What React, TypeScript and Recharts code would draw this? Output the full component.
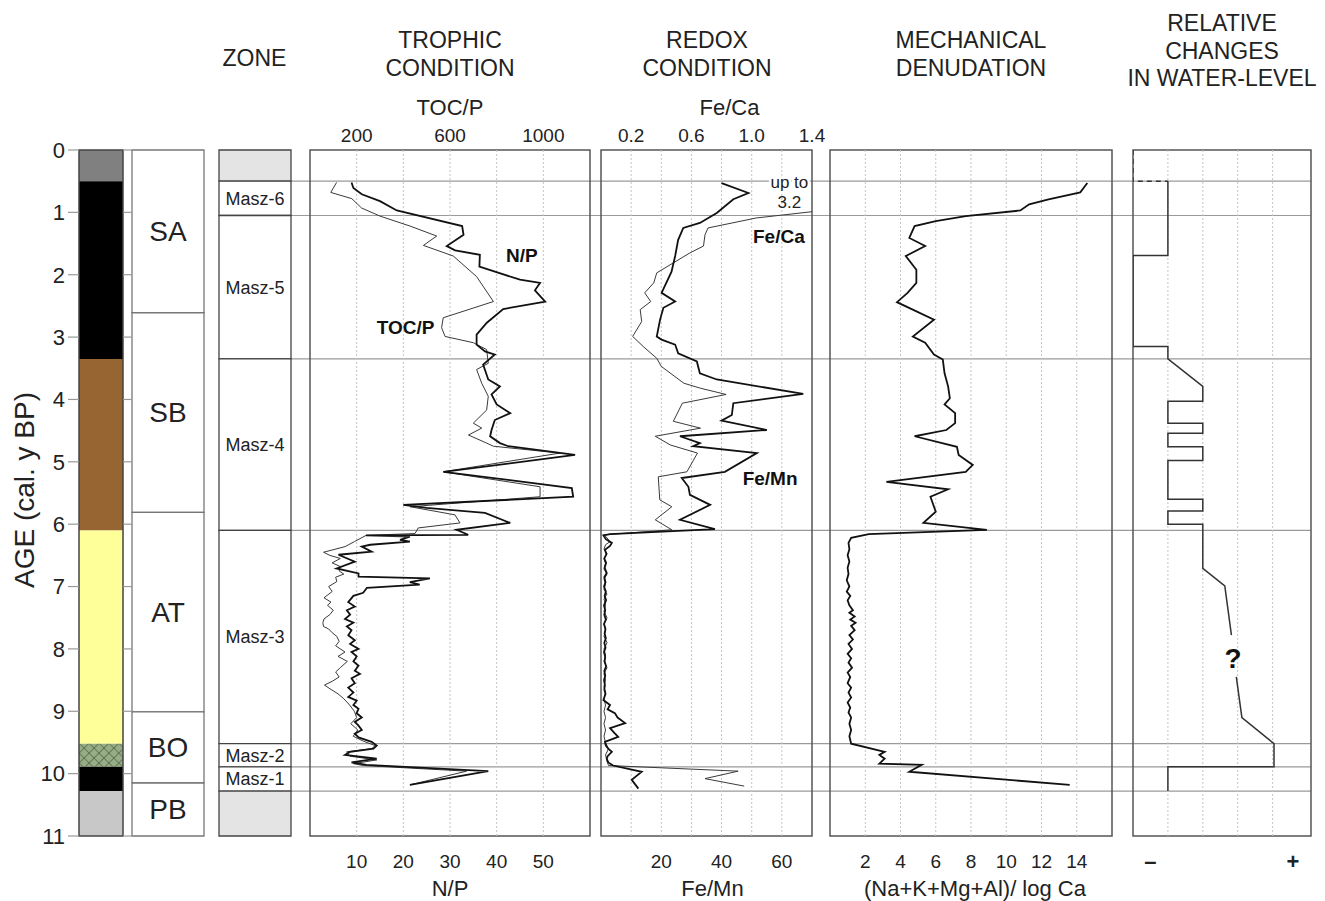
import React from 'react';
import {
  ScatterChart,
  Scatter,
  XAxis,
  YAxis,
  ReferenceLine,
  ReferenceArea,
  ReferenceDot,
} from 'recharts';

// ------------------------------------------------------------------ data
const AGE_TICKS = [0, 1, 2, 3, 4, 5, 6, 7, 8, 9, 10, 11];
const ZONE_BOUNDS = [0.5, 1.05, 3.35, 6.1, 9.52, 9.89, 10.28];

const LITHO = [
  { unit: 'top', from: 0, to: 0.5 },
  { unit: 'dark', from: 0.5, to: 3.35 },
  { unit: 'brown', from: 3.35, to: 6.1 },
  { unit: 'yellow', from: 6.1, to: 9.52 },
  { unit: 'moss', from: 9.52, to: 9.89 },
  { unit: 'dark', from: 9.89, to: 10.28 },
  { unit: 'base', from: 10.28, to: 11 },
];

const CHRONO = [
  { name: 'SA', from: 0, to: 2.61 },
  { name: 'SB', from: 2.61, to: 5.81 },
  { name: 'AT', from: 5.81, to: 9.01 },
  { name: 'BO', from: 9.01, to: 10.15 },
  { name: 'PB', from: 10.15, to: 11 },
];

const ZONES = [
  { name: '', from: 0, to: 0.5, blank: true },
  { name: 'Masz-6', from: 0.5, to: 1.05 },
  { name: 'Masz-5', from: 1.05, to: 3.35 },
  { name: 'Masz-4', from: 3.35, to: 6.1 },
  { name: 'Masz-3', from: 6.1, to: 9.52 },
  { name: 'Masz-2', from: 9.52, to: 9.89 },
  { name: 'Masz-1', from: 9.89, to: 10.28 },
  { name: '', from: 10.28, to: 11, blank: true },
];

// [age, value]
const NP = [
  [0.52, 8.9], [0.61, 9.3], [0.71, 11.1], [0.82, 15.0], [0.97, 18.6], [1.22, 32.6], [1.36, 32.9],
  [1.54, 29.3], [1.61, 31.1], [1.68, 36.4], [1.87, 36.3], [2.08, 45.0], [2.13, 49.3], [2.25, 48.2],
  [2.43, 50.4], [2.55, 41.4], [2.77, 37.9], [2.96, 35.7], [3.12, 35.7], [3.23, 37.5], [3.28, 39.6],
  [3.39, 37.9], [3.44, 37.1], [3.68, 38.2], [3.79, 40.7], [3.92, 38.9], [4.08, 40.0], [4.22, 42.9],
  [4.33, 39.6], [4.49, 38.9], [4.59, 38.6], [4.7, 40.7], [4.75, 42.5], [4.89, 56.8], [5.16, 28.6],
  [5.42, 56.1], [5.56, 56.4], [5.69, 20.0], [5.74, 25.0], [5.82, 37.5], [5.98, 42.9], [6.09, 31.4],
  [6.17, 33.9], [6.18, 12.0], [6.2, 21.4], [6.25, 19.3], [6.28, 21.4], [6.33, 12.9], [6.36, 11.1],
  [6.44, 13.2], [6.49, 6.1], [6.6, 9.6], [6.71, 5.7], [6.79, 10.4], [6.84, 10.4], [6.87, 25.7],
  [6.93, 21.4], [6.97, 23.5], [7.02, 12.2], [7.1, 11.4], [7.15, 9.3], [7.25, 8.2], [7.32, 9.6],
  [7.38, 7.9], [7.45, 8.6], [7.52, 7.5], [7.58, 9.3], [7.64, 7.9], [7.7, 8.9], [7.78, 8.2],
  [7.86, 9.6], [7.92, 8.6], [8.0, 10.4], [8.05, 8.9], [8.12, 10.0], [8.2, 9.3], [8.27, 10.4],
  [8.35, 9.6], [8.4, 10.7], [8.47, 8.9], [8.55, 9.6], [8.62, 8.2], [8.7, 9.3], [8.77, 8.2],
  [8.83, 10.0], [8.9, 9.3], [8.96, 10.4], [9.03, 10.0], [9.1, 11.1], [9.17, 9.6], [9.23, 10.4],
  [9.3, 11.1], [9.36, 9.6], [9.42, 10.4], [9.49, 13.2], [9.55, 14.3], [9.6, 13.6], [9.65, 8.6],
  [9.7, 7.5], [9.76, 14.3], [9.82, 8.9], [9.86, 12.1], [9.96, 38.2], [10.18, 21.4],
];

const TOCP = [
  [0.52, 114], [0.68, 89], [0.78, 179], [0.93, 221], [1.06, 300], [1.22, 429], [1.38, 543],
  [1.53, 486], [1.7, 614], [2.03, 714], [2.43, 786], [2.69, 571], [2.85, 564], [2.99, 579],
  [3.09, 700], [3.2, 757], [3.42, 764], [3.52, 714], [3.74, 736], [3.95, 764], [4.17, 757],
  [4.38, 700], [4.46, 736], [4.57, 679], [4.7, 757], [4.75, 786], [4.86, 1071], [5.16, 571],
  [5.4, 986], [5.56, 986], [5.72, 429], [5.85, 621], [5.98, 643], [6.06, 464], [6.15, 450],
  [6.18, 240], [6.28, 190], [6.36, 150], [6.45, 58], [6.5, 85], [6.55, 130], [6.62, 95],
  [6.68, 130], [6.75, 125], [6.8, 145], [6.85, 110], [6.92, 115], [7.0, 80], [7.08, 95],
  [7.18, 60], [7.25, 90], [7.3, 75], [7.38, 100], [7.45, 85], [7.52, 60], [7.58, 55],
  [7.64, 58], [7.68, 80], [7.74, 95], [7.8, 115], [7.88, 125], [7.95, 110], [8.05, 150],
  [8.12, 120], [8.2, 160], [8.3, 130], [8.37, 110], [8.45, 125], [8.52, 95], [8.58, 62],
  [8.65, 90], [8.72, 120], [8.8, 145], [8.9, 170], [9.0, 190], [9.1, 200], [9.2, 175],
  [9.3, 205], [9.4, 185], [9.48, 229], [9.55, 279], [9.6, 264], [9.65, 157], [9.72, 171],
  [9.78, 286], [9.84, 186], [9.87, 229], [9.96, 671], [10.18, 429],
];

const FE_MN = [
  [0.53, 40.0], [0.69, 48.9], [0.79, 43.9], [1.01, 38.4], [1.17, 32.8], [1.25, 27.3], [1.44, 25.6],
  [1.7, 24.6], [1.95, 23.4], [2.29, 20.1], [2.43, 24.6], [2.53, 20.7], [2.72, 19.6], [2.99, 18.5],
  [3.04, 20.1], [3.12, 24.6], [3.26, 25.6], [3.39, 31.8], [3.58, 32.8], [3.68, 38.4], [3.91, 67.1],
  [4.06, 43.9], [4.25, 43.4], [4.34, 40.0], [4.49, 55.0], [4.59, 26.2], [4.7, 32.8], [4.75, 30.6],
  [4.86, 51.7], [5.16, 41.1], [5.26, 26.8], [5.4, 29.0], [5.53, 29.5], [5.69, 36.2], [5.93, 26.2],
  [6.08, 37.8], [6.16, 3.0], [6.18, 0.8], [6.24, 1.6], [6.3, 3.6], [6.35, 3.0], [6.41, 1.3],
  [6.48, 1.8], [6.55, 1.1], [6.62, 1.7], [6.7, 1.2], [6.78, 1.9], [6.85, 1.1], [6.93, 1.5],
  [7.0, 1.0], [7.08, 1.6], [7.15, 1.2], [7.22, 1.7], [7.3, 1.0], [7.38, 1.4], [7.45, 1.1],
  [7.53, 1.6], [7.6, 1.0], [7.68, 1.5], [7.75, 1.2], [7.83, 1.6], [7.9, 1.1], [7.98, 1.5],
  [8.05, 1.0], [8.13, 1.4], [8.2, 1.2], [8.28, 1.7], [8.35, 1.1], [8.43, 1.4], [8.5, 1.0],
  [8.58, 1.3], [8.65, 1.1], [8.72, 1.5], [8.82, 0.8], [8.9, 3.0], [8.97, 2.2], [9.03, 4.6],
  [9.1, 5.5], [9.19, 8.0], [9.27, 3.0], [9.35, 4.5], [9.41, 5.7], [9.49, 1.3], [9.55, 1.6],
  [9.6, 2.4], [9.65, 3.6], [9.72, 2.2], [9.76, 1.9], [9.82, 2.4], [9.87, 4.0], [9.97, 13.5],
  [10.1, 10.2], [10.24, 12.4],
];

const FE_CA = [
  [0.5, 3.2], [1.09, 1.03], [1.25, 0.71], [1.36, 0.69], [1.54, 0.68], [1.65, 0.59], [1.81, 0.48],
  [1.97, 0.37], [2.13, 0.35], [2.29, 0.29], [2.43, 0.33], [2.56, 0.26], [2.75, 0.27], [2.99, 0.21],
  [3.15, 0.28], [3.34, 0.37], [3.47, 0.4], [3.74, 0.55], [3.82, 0.66], [3.92, 0.83], [4.06, 0.54],
  [4.35, 0.48], [4.46, 0.66], [4.59, 0.36], [4.73, 0.46], [4.86, 0.64], [5.16, 0.57], [5.24, 0.38],
  [5.61, 0.39], [5.72, 0.47], [5.93, 0.36], [6.09, 0.47], [6.17, 0.02], [6.22, 0.04], [6.28, 0.06],
  [6.33, 0.03], [6.4, 0.02], [6.47, 0.04], [6.55, 0.02], [6.63, 0.03], [6.72, 0.02], [6.8, 0.04],
  [6.88, 0.02], [6.96, 0.03], [7.05, 0.02], [7.12, 0.04], [7.2, 0.02], [7.3, 0.03], [7.4, 0.02],
  [7.5, 0.04], [7.6, 0.02], [7.7, 0.03], [7.8, 0.02], [7.9, 0.04], [8.0, 0.02], [8.1, 0.03],
  [8.2, 0.02], [8.3, 0.04], [8.4, 0.02], [8.5, 0.03], [8.6, 0.02], [8.7, 0.03], [8.8, 0.02],
  [8.9, 0.03], [9.0, 0.02], [9.1, 0.03], [9.2, 0.02], [9.3, 0.03], [9.4, 0.02], [9.5, 0.03],
  [9.6, 0.05], [9.7, 0.03], [9.8, 0.04], [9.87, 0.05], [9.96, 0.91], [10.08, 0.69], [10.2, 0.95],
];

const MECH = [
  [0.53, 14.6], [0.68, 14.2], [0.79, 12.4], [0.87, 11.3], [0.97, 10.8], [1.06, 7.7], [1.14, 6.0],
  [1.22, 4.8], [1.41, 4.5], [1.54, 5.4], [1.7, 4.3], [1.92, 4.9], [2.13, 4.9], [2.29, 4.4],
  [2.44, 3.8], [2.72, 5.9], [2.99, 4.7], [3.09, 5.4], [3.28, 5.9], [3.36, 6.4], [3.58, 6.5],
  [3.79, 6.7], [3.98, 6.8], [4.08, 6.5], [4.22, 7.1], [4.38, 7.1], [4.49, 6.6], [4.59, 4.8],
  [4.76, 7.2], [4.89, 7.3], [5.05, 8.1], [5.16, 7.7], [5.32, 3.2], [5.44, 6.7], [5.56, 5.7],
  [5.8, 6.0], [5.98, 5.3], [6.09, 8.9], [6.16, 2.2], [6.22, 1.2], [6.3, 1.05], [6.4, 1.1],
  [6.5, 1.0], [6.6, 1.1], [6.7, 1.0], [6.8, 1.05], [6.9, 0.95], [7.0, 1.1], [7.08, 0.95],
  [7.15, 1.15], [7.22, 1.0], [7.3, 1.1], [7.38, 1.3], [7.42, 1.1], [7.48, 1.4], [7.53, 1.15],
  [7.58, 1.45], [7.63, 1.2], [7.7, 1.4], [7.78, 1.1], [7.85, 1.3], [7.92, 1.05], [8.0, 1.25],
  [8.08, 1.0], [8.15, 1.2], [8.22, 1.05], [8.3, 1.25], [8.38, 1.0], [8.45, 1.15], [8.55, 1.0],
  [8.62, 1.2], [8.7, 1.05], [8.78, 1.2], [8.86, 1.0], [8.94, 1.15], [9.02, 1.05], [9.1, 1.2],
  [9.2, 1.1], [9.3, 1.2], [9.4, 1.1], [9.52, 1.2], [9.65, 3.1], [9.7, 2.8], [9.76, 3.1],
  [9.84, 2.8], [9.86, 5.2], [9.97, 4.5], [10.18, 13.6],
];

const WL_DASHED = [[0, 0], [0.5, 0], [0.5, 1]];
const WL_UPPER = [
  [0.5, 1], [1.69, 1], [1.69, 0], [3.15, 0], [3.15, 1], [3.35, 1], [3.79, 2], [4.03, 2], [4.03, 1],
  [4.38, 1], [4.38, 2], [4.54, 2], [4.54, 1], [4.76, 1], [4.76, 2], [4.98, 2], [4.98, 1], [5.6, 1],
  [5.6, 2], [5.79, 2], [5.79, 1], [6.0, 1], [6.0, 2], [6.71, 2], [6.99, 2.63], [7.78, 2.82],
];
const WL_LOWER = [[8.45, 2.96], [9.1, 3.12], [9.52, 4.04], [9.89, 4.04], [9.89, 1], [10.28, 1]];

const TOC_TICKS = [200, 600, 1000];
const NP_TICKS = [10, 20, 30, 40, 50];
const FECA_TICKS = [0.2, 0.6, 1.0, 1.4];
const FEMN_TICKS = [20, 40, 60];
const FEMN_GRID = [10, 20, 30, 40, 50, 60];
const MECH_TICKS = [2, 4, 6, 8, 10, 12, 14];
const WL_TICKS = [0.5, 4.58];
const WL_GRID = [1, 2, 3, 4];

// ------------------------------------------------------------------ style / layout
const FONT = '"Liberation Sans", Arial, Helvetica, sans-serif';
const H = 901;
const PAD = 30;
const LITHO_FILL: Record<string, string> = {
  top: '#808080',
  dark: '#000000',
  brown: '#976532',
  yellow: '#ffff99',
  moss: 'url(#mossHatch)',
  base: '#c8c8c8',
};
const TICK = { fontSize: 19, fill: '#222' };
const AXIS_TITLE = { fontSize: 22, fill: '#222' };
const GRID = { stroke: '#c4c4c4', strokeDasharray: '2 2', strokeWidth: 1 };
const SERIES_LABEL = { fontSize: 19, fontWeight: 'bold', fill: '#111' };

const pts = (arr: number[][]) => arr.map(([age, v]) => ({ age, v }));
const noShape = () => null;

const AgeAxis = (props: any) => (
  <YAxis
    yAxisId="age"
    type="number"
    dataKey="age"
    domain={[0, 11]}
    reversed
    allowDataOverflow
    hide
    {...props}
  />
);

function Title({ cx, top, lines, lh = 28 }: { cx: number; top: number; lines: string[]; lh?: number }) {
  return (
    <div
      style={{
        position: 'absolute',
        left: cx - 160,
        top,
        width: 320,
        textAlign: 'center',
        fontSize: 23,
        lineHeight: lh + 'px',
        color: '#222',
      }}
    >
      {lines.map((l) => (
        <div key={l}>{l}</div>
      ))}
    </div>
  );
}

export default function App() {
  return (
    <div style={{ position: 'relative', width: 1325, height: H, background: '#fff', fontFamily: FONT, overflow: 'hidden' }}>
      <style>{`body{margin:0;}`}</style>
      <svg width={0} height={0} style={{ position: 'absolute' }}>
        <defs>
          <pattern id="mossHatch" width={7} height={7} patternUnits="userSpaceOnUse" patternTransform="rotate(45)">
            <rect width={7} height={7} fill="#97ad85" />
            <path d="M0 0 L0 7 M0 0 L7 0" stroke="#3e4d35" strokeWidth={1.1} />
          </pattern>
        </defs>
      </svg>

      {/* Headers */}
      <Title cx={254.5} top={44} lines={['ZONE']} />
      <Title cx={450} top={26} lines={['TROPHIC', 'CONDITION']} />
      <Title cx={707} top={26} lines={['REDOX', 'CONDITION']} />
      <Title cx={971} top={26} lines={['MECHANICAL', 'DENUDATION']} />
      <Title cx={1222} top={10} lh={27.5} lines={['RELATIVE', 'CHANGES', 'IN WATER-LEVEL']} />

      <div
        style={{
          position: 'absolute',
          left: 25 - 150,
          top: 490 - 14,
          width: 300,
          height: 28,
          lineHeight: '28px',
          fontSize: 28,
          textAlign: 'center',
          color: '#222',
          transform: 'rotate(-90deg)',
          transformOrigin: '50% 50%',
          whiteSpace: 'nowrap',
        }}
      >
        AGE (cal. y BP)
      </div>

      {/* background zone lines */}
      <div style={{ position: 'absolute', left: 291, top: 0 }}>
        <ScatterChart width={1020} height={H} margin={{ top: 150, right: 0, bottom: 65, left: 0 }}>
          <XAxis xAxisId="x" type="number" dataKey="v" domain={[0, 1]} hide allowDataOverflow />
          <AgeAxis />
          {ZONE_BOUNDS.map((b) => (
            <ReferenceLine key={b} xAxisId="x" yAxisId="age" y={b} stroke="#9a9a9a" strokeWidth={1.2} />
          ))}
        </ScatterChart>
      </div>

      {/* lithology column with age axis */}
      <div style={{ position: 'absolute', left: 0, top: 0 }}>
        <ScatterChart width={125} height={H} margin={{ top: 150, right: 2, bottom: 65, left: 0 }}>
          <XAxis xAxisId="x" type="number" dataKey="v" domain={[0, 1]} hide allowDataOverflow />
          <AgeAxis
            hide={false}
            width={79}
            ticks={AGE_TICKS}
            interval={0}
            axisLine={false}
            tickSize={11}
            tickMargin={3}
            tickLine={{ stroke: '#999', strokeWidth: 1.2 }}
            tick={{ fontSize: 22, fill: '#222' }}
          />
          {LITHO.map((l) => (
            <ReferenceArea
              key={l.from}
              xAxisId="x"
              yAxisId="age"
              x1={0}
              x2={1}
              y1={l.from}
              y2={l.to}
              fill={LITHO_FILL[l.unit]}
              fillOpacity={1}
              stroke="none"
            />
          ))}
          <ReferenceArea xAxisId="x" yAxisId="age" x1={0} x2={1} y1={0} y2={11} fill="none" stroke="#444" strokeWidth={1.5} />
        </ScatterChart>
      </div>

      {/* chronozones */}
      <div style={{ position: 'absolute', left: 123, top: 0 }}>
        <ScatterChart width={83} height={H} margin={{ top: 150, right: 2, bottom: 65, left: 0 }}>
          <XAxis xAxisId="x" type="number" dataKey="v" domain={[0, 1]} hide allowDataOverflow />
          <AgeAxis
            hide={false}
            width={9}
            ticks={AGE_TICKS}
            interval={0}
            axisLine={false}
            tickSize={9}
            tickMargin={0}
            tickFormatter={() => ''}
            tickLine={{ stroke: '#999', strokeWidth: 1.2 }}
          />
          {CHRONO.map((c) => (
            <ReferenceArea
              key={c.name}
              xAxisId="x"
              yAxisId="age"
              x1={0}
              x2={1}
              y1={c.from}
              y2={c.to}
              fill="#fff"
              fillOpacity={1}
              stroke="#777"
              strokeWidth={1.3}
              label={{ value: c.name, position: 'center', fontSize: 28, fill: '#222' }}
            />
          ))}
        </ScatterChart>
      </div>

      {/* pollen-zone column */}
      <div style={{ position: 'absolute', left: 217, top: 0 }}>
        <ScatterChart width={76} height={H} margin={{ top: 150, right: 2, bottom: 65, left: 2 }}>
          <XAxis xAxisId="x" type="number" dataKey="v" domain={[0, 1]} hide allowDataOverflow />
          <AgeAxis />
          {ZONES.map((z) => (
            <ReferenceArea
              key={z.from}
              xAxisId="x"
              yAxisId="age"
              x1={0}
              x2={1}
              y1={z.from}
              y2={z.to}
              fill={z.blank ? '#e4e4e4' : '#fff'}
              fillOpacity={1}
              stroke="#444"
              strokeWidth={1.3}
              label={z.name ? { value: z.name, position: 'center', fontSize: 18, fill: '#222' } : undefined}
            />
          ))}
        </ScatterChart>
      </div>

      {/* TROPHIC */}
      <div style={{ position: 'absolute', left: 310 - PAD, top: 0 }}>
        <ScatterChart width={280 + 2 * PAD} height={H} margin={{ top: 0, right: PAD, bottom: 0, left: PAD }}>
          <XAxis
            xAxisId="toc"
            orientation="top"
            type="number"
            dataKey="v"
            domain={[0, 1200]}
            ticks={TOC_TICKS}
            allowDataOverflow
            height={150}
            axisLine={false}
            tickLine={false}
            tickSize={0}
            tickMargin={8}
            tick={TICK}
            label={{ value: 'TOC/P', position: 'insideTop', offset: 99, ...AXIS_TITLE }}
          />
          <XAxis
            xAxisId="np"
            orientation="bottom"
            type="number"
            dataKey="v"
            domain={[0, 60]}
            ticks={NP_TICKS}
            allowDataOverflow
            height={65}
            axisLine={false}
            tickLine={false}
            tickSize={0}
            tickMargin={19}
            tick={TICK}
            label={{ value: 'N/P', position: 'insideBottom', offset: 5, ...AXIS_TITLE }}
          />
          <AgeAxis />
          {NP_TICKS.map((g) => (
            <ReferenceLine key={g} xAxisId="np" yAxisId="age" x={g} {...GRID} />
          ))}
          <ReferenceArea xAxisId="np" yAxisId="age" x1={0} x2={60} y1={0} y2={11} fill="none" stroke="#555" strokeWidth={1.5} />
          <Scatter xAxisId="toc" yAxisId="age" data={pts(TOCP)} fill="#333" line={{ stroke: '#3a3a3a', strokeWidth: 1 }} shape={noShape} isAnimationActive={false} />
          <Scatter xAxisId="np" yAxisId="age" data={pts(NP)} fill="#111" line={{ stroke: '#111', strokeWidth: 1.8 }} shape={noShape} isAnimationActive={false} />
          <ReferenceDot xAxisId="np" yAxisId="age" x={45.4} y={1.68} r={0} label={{ value: 'N/P', position: 'center', ...SERIES_LABEL }} />
          <ReferenceDot xAxisId="np" yAxisId="age" x={20.5} y={2.85} r={0} label={{ value: 'TOC/P', position: 'center', ...SERIES_LABEL }} />
        </ScatterChart>
      </div>

      {/* REDOX */}
      <div style={{ position: 'absolute', left: 601 - PAD, top: 0 }}>
        <ScatterChart width={211 + 2 * PAD} height={H} margin={{ top: 0, right: PAD, bottom: 0, left: PAD }}>
          <XAxis
            xAxisId="feca"
            orientation="top"
            type="number"
            dataKey="v"
            domain={[0, 1.4]}
            ticks={FECA_TICKS}
            tickFormatter={(v: number) => v.toFixed(1)}
            allowDataOverflow
            height={150}
            axisLine={false}
            tickLine={false}
            tickSize={0}
            tickMargin={8}
            tick={TICK}
            label={{ value: 'Fe/Ca', position: 'insideTop', offset: 99, dx: 23, ...AXIS_TITLE }}
          />
          <XAxis
            xAxisId="femn"
            orientation="bottom"
            type="number"
            dataKey="v"
            domain={[0, 70]}
            ticks={FEMN_TICKS}
            allowDataOverflow
            height={65}
            axisLine={false}
            tickLine={false}
            tickSize={0}
            tickMargin={19}
            tick={TICK}
            label={{ value: 'Fe/Mn', position: 'insideBottom', offset: 5, dx: 6, ...AXIS_TITLE }}
          />
          <AgeAxis />
          {FEMN_GRID.map((g) => (
            <ReferenceLine key={g} xAxisId="femn" yAxisId="age" x={g} {...GRID} />
          ))}
          <ReferenceArea xAxisId="femn" yAxisId="age" x1={0} x2={70} y1={0} y2={11} fill="none" stroke="#555" strokeWidth={1.5} />
          <Scatter xAxisId="feca" yAxisId="age" data={pts(FE_CA)} fill="#333" line={{ stroke: '#3a3a3a', strokeWidth: 1 }} shape={noShape} isAnimationActive={false} />
          <Scatter xAxisId="femn" yAxisId="age" data={pts(FE_MN)} fill="#111" line={{ stroke: '#111', strokeWidth: 1.8 }} shape={noShape} isAnimationActive={false} />
          <ReferenceDot xAxisId="feca" yAxisId="age" x={1.25} y={0.52} r={0} label={{ value: 'up to', position: 'center', fontSize: 17, fill: '#222', stroke: '#fff', strokeWidth: 5, style: { paintOrder: 'stroke' } }} />
          <ReferenceDot xAxisId="feca" yAxisId="age" x={1.25} y={0.83} r={0} label={{ value: '3.2', position: 'center', fontSize: 17, fill: '#222' }} />
          <ReferenceDot xAxisId="feca" yAxisId="age" x={1.18} y={1.39} r={0} label={{ value: 'Fe/Ca', position: 'center', ...SERIES_LABEL }} />
          <ReferenceDot xAxisId="femn" yAxisId="age" x={56.1} y={5.26} r={0} label={{ value: 'Fe/Mn', position: 'center', ...SERIES_LABEL }} />
        </ScatterChart>
      </div>

      {/* MECHANICAL DENUDATION */}
      <div style={{ position: 'absolute', left: 830 - PAD, top: 0 }}>
        <ScatterChart width={282 + 2 * PAD} height={H} margin={{ top: 150, right: PAD, bottom: 0, left: PAD }}>
          <XAxis
            xAxisId="m"
            orientation="bottom"
            type="number"
            dataKey="v"
            domain={[0, 16]}
            ticks={MECH_TICKS}
            allowDataOverflow
            height={65}
            axisLine={false}
            tickLine={false}
            tickSize={0}
            tickMargin={19}
            tick={TICK}
            label={{ value: '(Na+K+Mg+Al)/ log Ca', position: 'insideBottom', offset: 5, dx: 4, ...AXIS_TITLE }}
          />
          <AgeAxis />
          {MECH_TICKS.map((g) => (
            <ReferenceLine key={g} xAxisId="m" yAxisId="age" x={g} {...GRID} />
          ))}
          <ReferenceArea xAxisId="m" yAxisId="age" x1={0} x2={16} y1={0} y2={11} fill="none" stroke="#555" strokeWidth={1.5} />
          <Scatter xAxisId="m" yAxisId="age" data={pts(MECH)} fill="#111" line={{ stroke: '#111', strokeWidth: 1.8 }} shape={noShape} isAnimationActive={false} />
        </ScatterChart>
      </div>

      {/* WATER LEVEL */}
      <div style={{ position: 'absolute', left: 1133 - PAD, top: 0 }}>
        <ScatterChart width={178 + 2 * PAD} height={H} margin={{ top: 150, right: PAD, bottom: 0, left: PAD }}>
          <XAxis
            xAxisId="w"
            orientation="bottom"
            type="number"
            dataKey="v"
            domain={[0, 5.1]}
            ticks={WL_TICKS}
            tickFormatter={(v: number) => (v < 2 ? '–' : '+')}
            allowDataOverflow
            height={65}
            axisLine={false}
            tickLine={false}
            tickSize={0}
            tickMargin={17}
            tick={{ fontSize: 22, fill: '#222', fontWeight: 'bold' }}
          />
          <AgeAxis />
          {WL_GRID.map((g) => (
            <ReferenceLine key={g} xAxisId="w" yAxisId="age" x={g} {...GRID} />
          ))}
          <ReferenceArea xAxisId="w" yAxisId="age" x1={0} x2={5.1} y1={0} y2={11} fill="none" stroke="#555" strokeWidth={1.5} />
          <Scatter xAxisId="w" yAxisId="age" data={pts(WL_DASHED)} fill="#333" line={{ stroke: '#333', strokeWidth: 1.5, strokeDasharray: '5 4' }} shape={noShape} isAnimationActive={false} />
          <Scatter xAxisId="w" yAxisId="age" data={pts(WL_UPPER)} fill="#333" line={{ stroke: '#333', strokeWidth: 1.5 }} shape={noShape} isAnimationActive={false} />
          <Scatter xAxisId="w" yAxisId="age" data={pts(WL_LOWER)} fill="#333" line={{ stroke: '#333', strokeWidth: 1.5 }} shape={noShape} isAnimationActive={false} />
          <ReferenceDot xAxisId="w" yAxisId="age" x={2.87} y={8.15} r={0} label={{ value: '?', position: 'center', fontSize: 28, fontWeight: 'bold', fill: '#111' }} />
        </ScatterChart>
      </div>
    </div>
  );
}
